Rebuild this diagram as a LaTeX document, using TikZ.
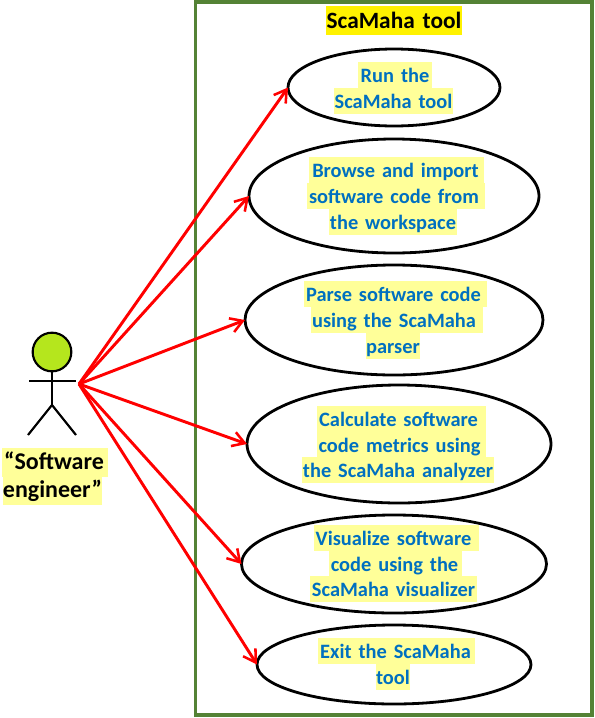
\documentclass[tikz,border=0pt]{standalone}
\usepackage{fontspec}
\setmainfont{Carlito}[WordSpace=1.5]
\usetikzlibrary{shapes.geometric,arrows.meta}
\definecolor{framegreen}{HTML}{548235}
\definecolor{hlpale}{HTML}{FFFF99}
\definecolor{txtblue}{HTML}{0070C0}
\definecolor{headlime}{HTML}{B5E61D}
\tikzset{
  px/.style={x=0.75pt,y=-0.75pt},
  usecase/.style n args={2}{draw=black,line width=2.1pt,ellipse,inner sep=0pt,outer sep=0pt,fill=white,minimum width=#1*0.75pt,minimum height=#2*0.75pt},
  hlbase/.style={inner xsep=0pt,inner ysep=0pt,outer sep=0pt,font=\fontsize{15.3}{15.3}\selectfont\bfseries,text height=13.25pt,text depth=1.75pt,minimum height=19.5pt},
  hlbox/.style={hlbase,fill=hlpale,text=txtblue,minimum width=#1*0.75pt},
  actorbox/.style={hlbase,fill=hlpale,text=black,font=\fontsize{18}{18}\selectfont\bfseries,text height=13pt,text depth=3pt,minimum height=21.5pt,minimum width=#1*0.75pt},
  titlebox/.style={hlbase,fill=yellow,text=black,font=\fontsize{17.5}{17.5}\selectfont\bfseries,minimum height=21.75pt,minimum width=#1*0.75pt},
  assoc/.style={draw=red,line width=2.2pt,-{Straight Barb[length=9pt,width=11pt,line width=1.9pt]}},
  stick/.style={draw=black,line width=1.6pt},
}
\begin{document}
\begin{tikzpicture}[px]
\useasboundingbox (0,0) rectangle (594,718);
\fill[white] (0,0) rectangle (594,718);
\draw[framegreen,line width=2.4pt] (195.5,2) rectangle (592,715);
% use cases
\node[usecase={212}{77}]  (u1) at (394,87.5) {};
\node[usecase={290}{114}] (u2) at (394,196) {};
\node[usecase={298}{110}] (u3) at (394,320) {};
\node[usecase={304}{118}] (u4) at (399,444) {};
\node[usecase={305}{98}]  (u5) at (394,564) {};
\node[usecase={274}{79}]  (u6) at (394,664.5) {};
% title
\node[titlebox=136] (title) at (394,20.5) {ScaMaha tool};
% labels
\node[hlbox=74]  (l1a) at (395,75) {Run the};
\node[hlbox=119] (l1b) at (393.5,101) {ScaMaha tool};
\node[hlbox=175] (l2a) at (396.5,170) {Browse and import\kern1.5pt};
\node[hlbox=178] (l2b) at (396,196) {software code from\kern3pt};
\node[hlbox=128] (l2c) at (393,221.5) {the workspace};
\node[hlbox=183] (l3a) at (395.5,294) {Parse software code\kern3pt};
\node[hlbox=172] (l3b) at (397,320) {using the ScaMaha\kern4.5pt};
\node[hlbox=54]  (l3c) at (393,345.5) {parser};
\node[hlbox=169] (l4a) at (401.5,419) {Calculate software\kern4.5pt};
\node[hlbox=169] (l4b) at (401.5,444.5) {code metrics using\kern3pt};
\node[hlbox=192] (l4c) at (398,470) {the ScaMaha analyzer};
\node[hlbox=165] (l5a) at (396.5,538) {Visualize software\kern4.5pt};
\node[hlbox=133] (l5b) at (395.5,563.5) {code using the\kern1.5pt};
\node[hlbox=167] (l5c) at (393.5,589) {ScaMaha visualizer};
\node[hlbox=157] (l6a) at (396.5,651) {Exit the ScaMaha\kern1.5pt};
\node[hlbox=34]  (l6b) at (393,677) {tool};
% actor
\node[draw=black,line width=1.6pt,fill=headlime,circle,inner sep=0pt,outer sep=0pt,minimum size=29pt] (head) at (52,352) {};
\coordinate (hipc) at (52,405);
\coordinate (armL) at (29,381);
\coordinate (armR) at (76,381);
\coordinate (legL) at (28,435);
\coordinate (legR) at (76,435);
\coordinate (src) at (79,384);
\draw[stick] (head.south) -- (hipc);
\draw[stick] (armL) -- (armR);
\draw[stick] (legL) -- (hipc) -- (legR);
\node[actorbox=106] (a1) at (55,462.5) {“Software\kern1.5pt};
\node[actorbox=99]  (a2) at (52.5,491) {engineer”};
% associations
\draw[assoc] (src) -- (u1.west);
\draw[assoc] (src) -- (u2.west);
\draw[assoc] (src) -- (u3.west);
\draw[assoc] (src) -- (u4.west);
\draw[assoc] (src) -- (u5.west);
\draw[assoc] (src) -- (u6.west);
\end{tikzpicture}
\end{document}
